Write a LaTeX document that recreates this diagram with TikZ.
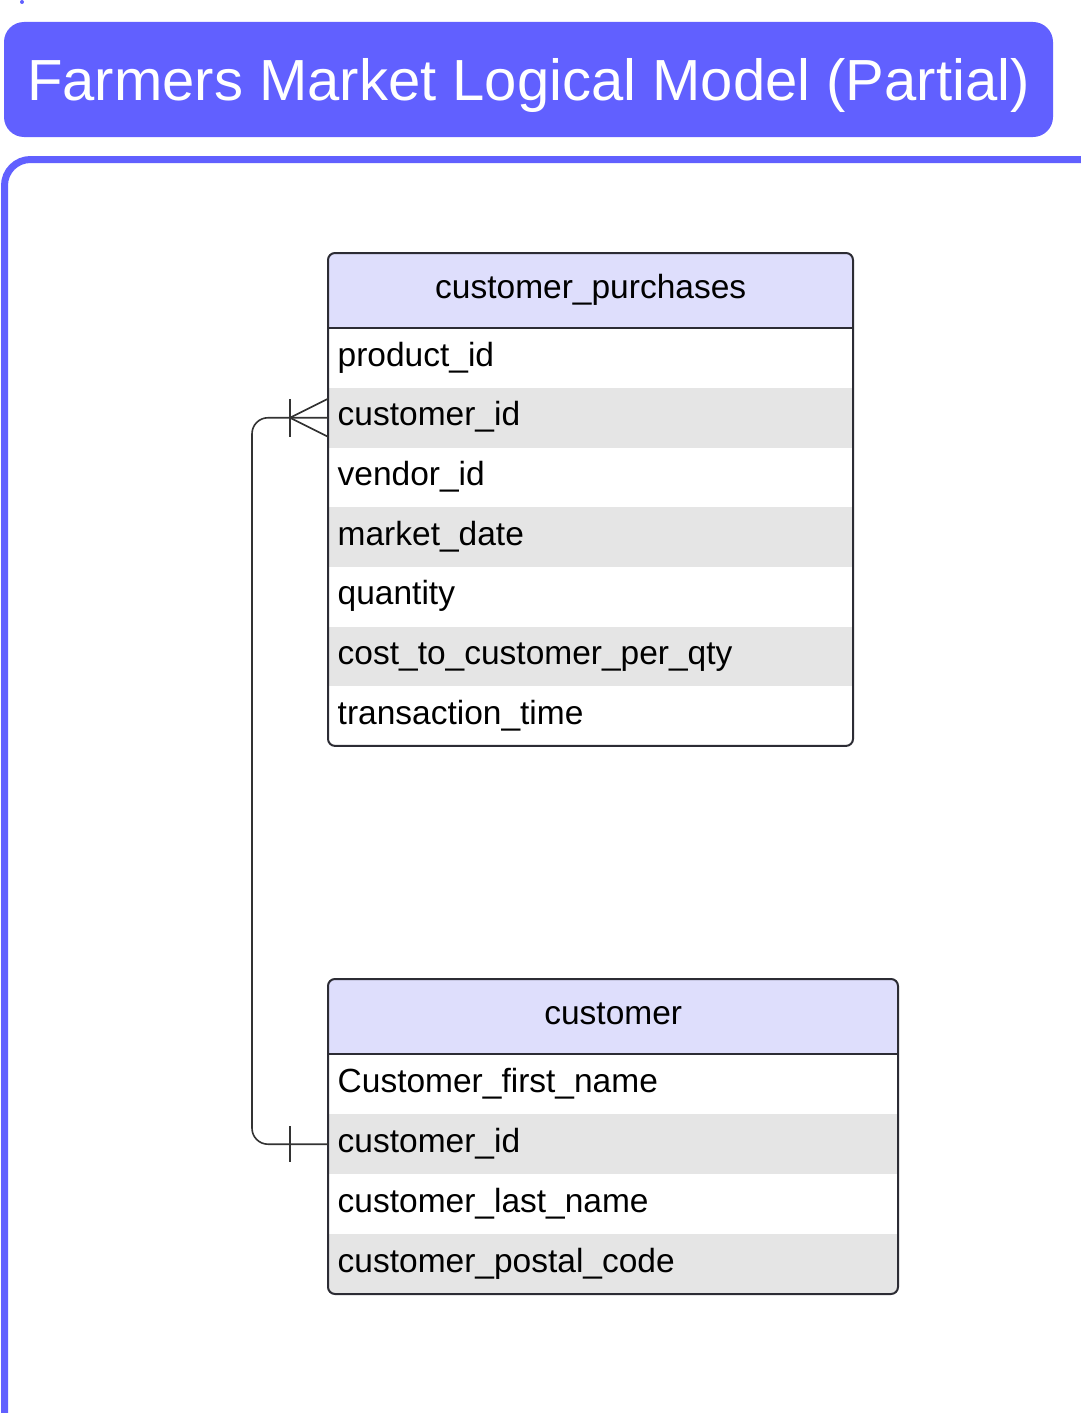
\documentclass[tikz,border=0pt]{standalone}
\usepackage{fontspec}
\setmainfont{Liberation Sans}
\usetikzlibrary{calc}
\definecolor{brandblue}{RGB}{97,96,255}
\definecolor{headfill}{RGB}{222,222,252}
\definecolor{rowgray}{RGB}{229,229,229}
\definecolor{edgegray}{RGB}{44,44,52}
\definecolor{linkgray}{RGB}{51,51,51}
\newcommand{\fieldfont}{\fontsize{33.5}{36}\selectfont}

\begin{document}
\begin{tikzpicture}[x=1pt,y=-1pt,
  titlebox/.style={fill=brandblue, rounded corners=20pt, minimum width=1049pt,
    minimum height=115pt, inner sep=0pt},
  titletext/.style={text=white, font=\fontsize{58}{60}\selectfont, inner sep=0pt, anchor=base},
  headcell/.style={fill=headfill, anchor=north west, inner xsep=0pt, inner ysep=0pt,
    minimum height=75pt, text height=28pt, text depth=12pt, font=\fieldfont, align=center},
  fieldcell/.style={anchor=north west, inner xsep=9.5pt, inner ysep=0pt, align=left,
    minimum height=59.7pt, text height=24pt, text depth=8pt, font=\fieldfont},
  graycell/.style={fieldcell, fill=rowgray},
  tableedge/.style={draw=edgegray, line width=2pt, rounded corners=7pt},
  rule/.style={draw=edgegray, line width=2pt},
  rel/.style={draw=linkgray, line width=1.6pt},
]
\useasboundingbox (0,0) rectangle (1080,1413);

% small marker dot in the corner
\fill[brandblue] (22,2) circle (2pt);

% title banner
\node[titlebox] (titlebox) at (528.5,79.5) {};
\node[titletext] (title) at (528.5,100) {Farmers Market Logical Model (Partial)};

% container frame running off the page
\draw[brandblue, line width=7pt, rounded corners=26pt] (1095,159.5) -- (4.5,159.5) -- (4.5,1425);

% ---- table: customer_purchases ----
\begin{scope}
  \clip[rounded corners=7pt] (328,253) rectangle (853,745.9);
  \node[headcell, text width=525pt] (cp-head) at (328,253) {customer\_purchases};
  \node[fieldcell, text width=506pt] (cp-r1) at (328,328)   {product\_id};
  \node[graycell,  text width=506pt] (cp-r2) at (328,387.7) {customer\_id};
  \node[fieldcell, text width=506pt] (cp-r3) at (328,447.4) {vendor\_id};
  \node[graycell,  text width=506pt] (cp-r4) at (328,507.1) {market\_date};
  \node[fieldcell, text width=506pt] (cp-r5) at (328,566.8) {quantity};
  \node[graycell,  text width=506pt] (cp-r6) at (328,626.5) {cost\_to\_customer\_per\_qty};
  \node[fieldcell, text width=506pt] (cp-r7) at (328,686.2) {transaction\_time};
\end{scope}
\draw[tableedge] (328,253) rectangle (853,745.9);
\draw[rule] (cp-head.south west) -- (cp-head.south east);

% ---- table: customer ----
\begin{scope}
  \clip[rounded corners=7pt] (328,979) rectangle (898,1294);
  \node[headcell, text width=570pt] (c-head) at (328,979) {customer};
  \node[fieldcell, text width=551pt, minimum height=60pt] (c-r1) at (328,1054) {Customer\_first\_name};
  \node[graycell,  text width=551pt, minimum height=60pt] (c-r2) at (328,1114) {customer\_id};
  \node[fieldcell, text width=551pt, minimum height=60pt] (c-r3) at (328,1174) {customer\_last\_name};
  \node[graycell,  text width=551pt, minimum height=60pt] (c-r4) at (328,1234) {customer\_postal\_code};
\end{scope}
\draw[tableedge] (328,979) rectangle (898,1294);
\draw[rule] (c-head.south west) -- (c-head.south east);

% ---- relationship customer (one) to customer_purchases (many) ----
\draw[rel, rounded corners=16pt] (cp-r2.west) -- ++(-76,0) |- (c-r2.west);
% crow's foot with bar at the purchases end
\draw[rel] ($(cp-r2.west)+(-38,0)$) -- ($(cp-r2.west)+(0,-19)$);
\draw[rel] ($(cp-r2.west)+(-38,0)$) -- ($(cp-r2.west)+(0,19)$);
\draw[rel] ($(cp-r2.west)+(-38,-19)$) -- ($(cp-r2.west)+(-38,19)$);
% single bar at the customer end
\draw[rel] ($(c-r2.west)+(-38,-18)$) -- ($(c-r2.west)+(-38,18)$);
\end{tikzpicture}
\end{document}
